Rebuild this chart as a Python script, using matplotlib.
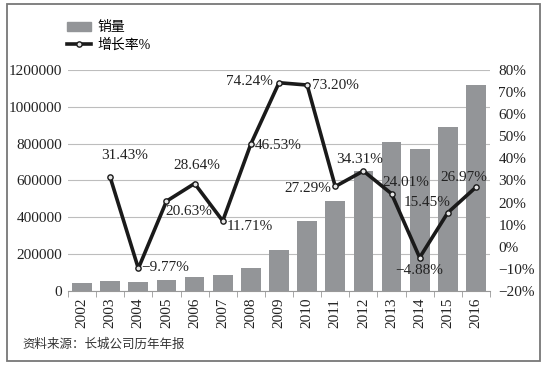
import matplotlib.pyplot as plt
from matplotlib.patches import Rectangle
from matplotlib.lines import Line2D
from matplotlib.patches import Patch

plt.rcParams['font.family'] = ['Liberation Serif', 'Noto Sans CJK SC']

years = ["2002", "2003", "2004", "2005", "2006", "2007", "2008", "2009",
         "2010", "2011", "2012", "2013", "2014", "2015", "2016"]
sales = [42000, 55200, 49800, 60100, 77300, 86400, 126600, 220600,
         382000, 486300, 653200, 810000, 770500, 889500, 1120000]
growth = [None, 31.43, -9.77, 20.63, 28.64, 11.71, 46.53, 74.24,
          73.20, 27.29, 34.31, 24.01, -4.88, 15.45, 26.97]
labels = ["", "31.43%", "\u22129.77%", "20.63%", "28.64%", "11.71%", "46.53%", "74.24%",
          "73.20%", "27.29%", "34.31%", "24.01%", "\u22124.88%", "15.45%", "26.97%"]

# label placement: (ha, dx px, dy px)
lab_pos = [None, ("center", 14, 22), ("left", 3, 1), ("left", -1, -10),
           ("center", 2, 18), ("left", 4, -6), ("left", 4, -2), ("right", -6, 1),
           ("left", 5, 0), ("right", -4, -2), ("center", -4, 11), ("center", 14, 11),
           ("center", 0, -13), ("center", -21, 10), ("center", -12, 10)]

fig = plt.figure(figsize=(5.48, 3.69), dpi=100)
ax = fig.add_axes([68 / 548, 1 - 291 / 369, 422 / 548, 221 / 369])
ax2 = ax.twinx()

x = list(range(len(years)))
bar_color = "#939598"
ax.bar(x, sales, width=0.7, color=bar_color, zorder=2)
ax.set_xlim(-0.5, len(years) - 0.5)
ax.set_ylim(0, 1200000)
ax.set_yticks(range(0, 1200001, 200000))
ax.set_yticklabels([str(v) for v in range(0, 1200001, 200000)])
ax.yaxis.grid(True, color="#bdbdbd", lw=0.8, zorder=0)
ax.set_axisbelow(True)
ax.set_xticks(x)
ax.set_xticklabels(years, rotation=90, fontsize=11, color="#222222")
ax.set_xticks([i + 0.5 for i in range(-1, len(years))], minor=True)
ax.tick_params(axis="x", which="major", length=0, pad=5)
ax.tick_params(axis="x", which="minor", length=4, color="#999999")
ax.tick_params(axis="y", length=0, pad=4, labelsize=11, labelcolor="#222222")
for s in ["top", "left", "right"]:
    ax.spines[s].set_visible(False)
ax.spines["bottom"].set_color("#999999")

gx = [i for i, g in zip(x, growth) if g is not None]
gy = [g for g in growth if g is not None]
ax2.plot(gx, gy, color="#1a1a1a", lw=2.6, marker="o", markersize=3.8,
         markerfacecolor="#e6e6e6", markeredgecolor="#1a1a1a", markeredgewidth=1, zorder=3)
ax2.set_ylim(-20, 80)
ax2.set_yticks(range(-20, 81, 10))
ax2.set_yticklabels([("\u2212%d%%" % -v) if v < 0 else "%d%%" % v for v in range(-20, 81, 10)])
ax2.tick_params(axis="y", length=0, pad=6, labelsize=11, labelcolor="#222222")
for s in ax2.spines.values():
    s.set_visible(False)

for i, g in enumerate(growth):
    if g is None:
        continue
    ha, dx, dy = lab_pos[i]
    ax2.annotate(labels[i], (i, g), xytext=(dx, dy), textcoords="offset pixels",
                 ha=ha, va="center", fontsize=11, color="#222222", zorder=4)

handles = [Patch(color=bar_color),
           Line2D([], [], color="#1a1a1a", lw=2.6, marker="o", markersize=3.8,
                  markerfacecolor="#e6e6e6", markeredgecolor="#1a1a1a")]
fig.legend(handles, ["销量", "增长率%"], loc="upper left",
           bbox_to_anchor=(67 / 548, 1 - 21 / 369), frameon=False,
           prop={"family": ["Liberation Serif", "Noto Sans CJK SC"], "size": 10},
           handlelength=1.7, handleheight=0.6, handletextpad=0.5, labelspacing=0.3,
           borderpad=0, borderaxespad=0)

fig.text(22 / 548, 1 - 344 / 369, "资料来源：长城公司历年年报", fontsize=9,
         family=["Noto Sans CJK SC"], color="#333333", va="center")

fig.patches.append(Rectangle((7 / 548, 1 - 361 / 369), 533 / 548, 357 / 369,
                             transform=fig.transFigure, fill=False,
                             edgecolor="#777777", lw=1.3))

fig.savefig("out.png", dpi=100)
